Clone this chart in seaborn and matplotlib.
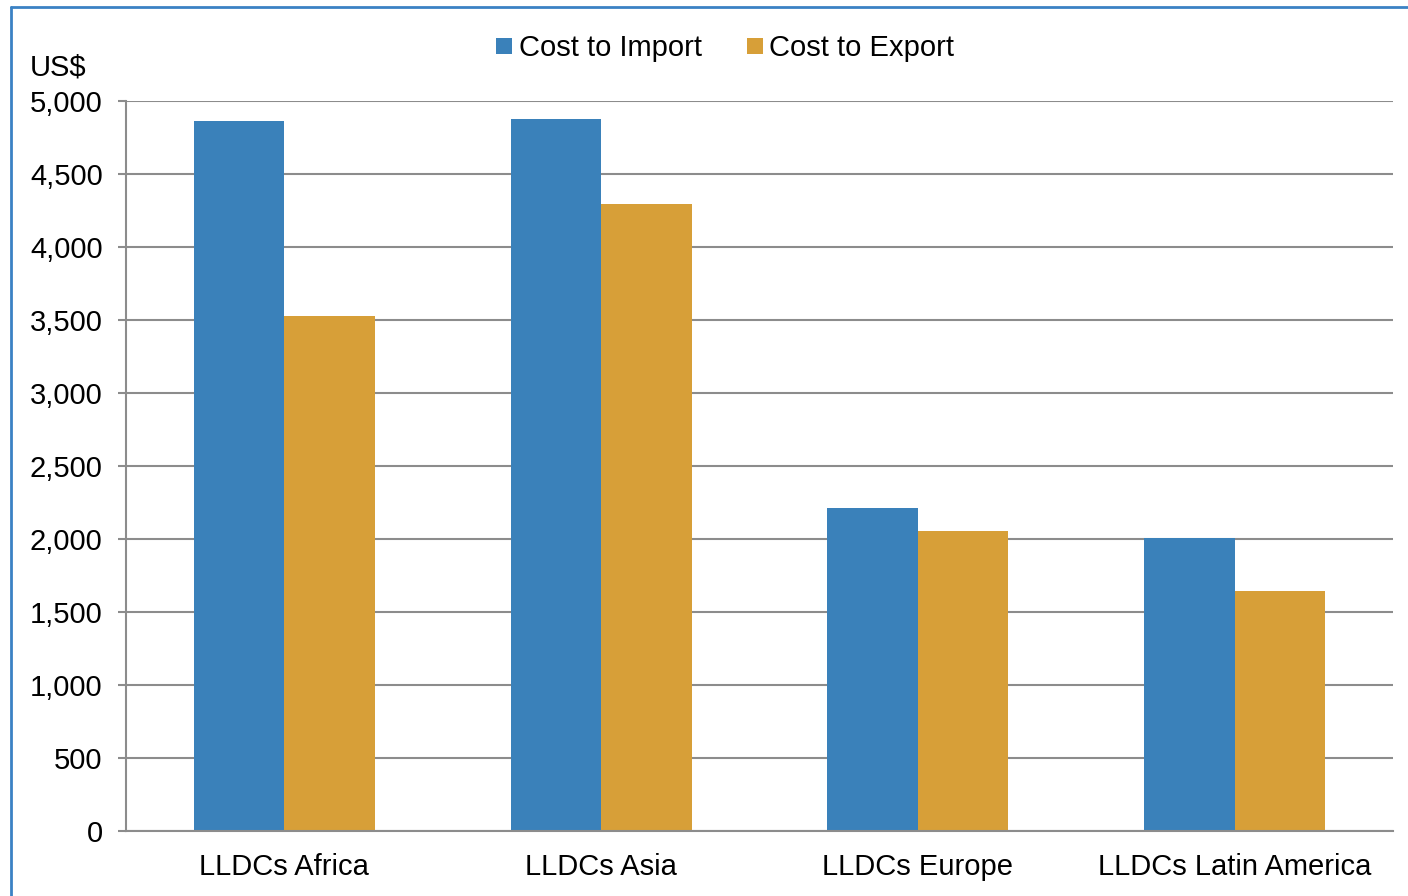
import matplotlib
matplotlib.use("Agg")
import matplotlib.pyplot as plt
import matplotlib.lines as mlines
import seaborn as sns
import pandas as pd

regions = ["LLDCs Africa", "LLDCs Asia", "LLDCs Europe", "LLDCs Latin America"]
cost_to_import = [4863, 4877, 2212, 2007]
cost_to_export = [3527, 4295, 2055, 1644]
series_names = ["Cost to Import", "Cost to Export"]
y_ticks = [0, 500, 1000, 1500, 2000, 2500, 3000, 3500, 4000, 4500, 5000]

df = pd.DataFrame({
    "region": regions * 2,
    "series": [series_names[0]] * 4 + [series_names[1]] * 4,
    "value": cost_to_import + cost_to_export,
})

sns.set_theme(style="white")
plt.rcParams["font.family"] = ["Liberation Sans", "DejaVu Sans"]
plt.rcParams["text.color"] = "black"

palette = {"Cost to Import": "#3A81BA", "Cost to Export": "#D79F38"}
grey = "#8C8C8C"
fs = 21

fig = plt.figure(figsize=(14.08, 8.96), dpi=100)
ax = fig.add_axes([126 / 1408, 1 - 831 / 896, (1393 - 126) / 1408, (831 - 101) / 896])

sns.barplot(data=df, x="region", y="value", hue="series", palette=palette,
            width=0.572, saturation=1, ax=ax, legend=False, linewidth=0)

ax.set_xlim(-0.5, 3.5)
ax.set_ylim(0, 5000)
ax.set_yticks(y_ticks)
ax.set_yticklabels([f"{v:,}" for v in y_ticks], fontsize=fs)
ax.set_xlabel("")
ax.set_ylabel("")

# category labels centred, tick marks on category boundaries
ax.set_xticks(range(len(regions)))
ax.set_xticklabels(regions, fontsize=fs)
ax.tick_params(axis="x", length=0, pad=16)
ax.set_xticks([i - 0.5 for i in range(len(regions) + 1)], minor=True)
ax.tick_params(axis="x", which="minor", length=5.8, width=1.5, color=grey, direction="out")
ax.tick_params(axis="y", length=5.8, width=1.5, color=grey, direction="out", left=True, pad=11)

ax.yaxis.grid(True, color=grey, linewidth=1.5)
ax.set_axisbelow(True)
for side in ["top", "right"]:
    ax.spines[side].set_visible(False)
for side in ["left", "bottom"]:
    ax.spines[side].set_color(grey)
    ax.spines[side].set_linewidth(1.5)

for t in ax.get_xticklabels() + ax.get_yticklabels():
    t.set_color("black")

fig.text(30 / 1408, 1 - 67 / 896, "US$", fontsize=fs, va="center", ha="left", color="black")

handles = [mlines.Line2D([], [], marker="s", linestyle="none", markersize=11.5,
                         markerfacecolor=palette[s], markeredgewidth=0, label=s)
           for s in series_names]
leg = fig.legend(handles=handles, loc="center", bbox_to_anchor=(722 / 1408, 1 - 48 / 896),
                 ncol=2, frameon=False, fontsize=fs, handletextpad=0.0, columnspacing=1.3,
                 handlelength=1.0)
for t in leg.get_texts():
    t.set_color("black")

# blue outline along the top and left edges of the chart area
border = "#3B82C4"
fig.add_artist(mlines.Line2D([11 / 1408, 11 / 1408], [0, 1 - 7 / 896],
                             transform=fig.transFigure, color=border, linewidth=2))
fig.add_artist(mlines.Line2D([11 / 1408, 1], [1 - 7 / 896, 1 - 7 / 896],
                             transform=fig.transFigure, color=border, linewidth=2))

fig.savefig("out.png", dpi=100)
